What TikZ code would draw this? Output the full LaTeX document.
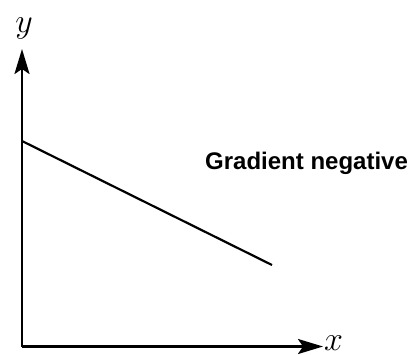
\RequirePackage{fix-cm}
\documentclass[tikz,border=0pt]{standalone}
\usepackage{fontspec}
\newfontfamily\labfont{Liberation Sans}
\usetikzlibrary{arrows.meta}
\begin{document}
\begin{tikzpicture}[x=1pt,y=-1pt,
  axis/.style={line width=2.4pt,-{Stealth[length=25pt,width=15pt,inset=5pt]}},
  graphline/.style={line width=2.2pt},
  axlabel/.style={font=\fontsize{34}{36}\selectfont,inner sep=0pt},
  gradlabel/.style={font=\labfont\bfseries\fontsize{24}{26}\selectfont,inner sep=0pt,anchor=base west}]
\useasboundingbox (0,0) rectangle (415,354);
\coordinate (O) at (22,346.5);
\coordinate (ytip) at (22,49);
\coordinate (xtip) at (323,346.5);
\coordinate (p1) at (22,141);
\coordinate (p2) at (272,265);
\draw[axis] (O) -- (ytip);
\draw[axis] (O) -- (xtip);
\draw[graphline] (p1) -- (p2);
\node[axlabel,anchor=base] (ylab) at (24,32) {$y$};
\node[axlabel,anchor=base west] (xlab) at (324,350) {$x$};
\node[gradlabel] (grad) at (205,169) {Gradient negative};
\end{tikzpicture}
\end{document}
